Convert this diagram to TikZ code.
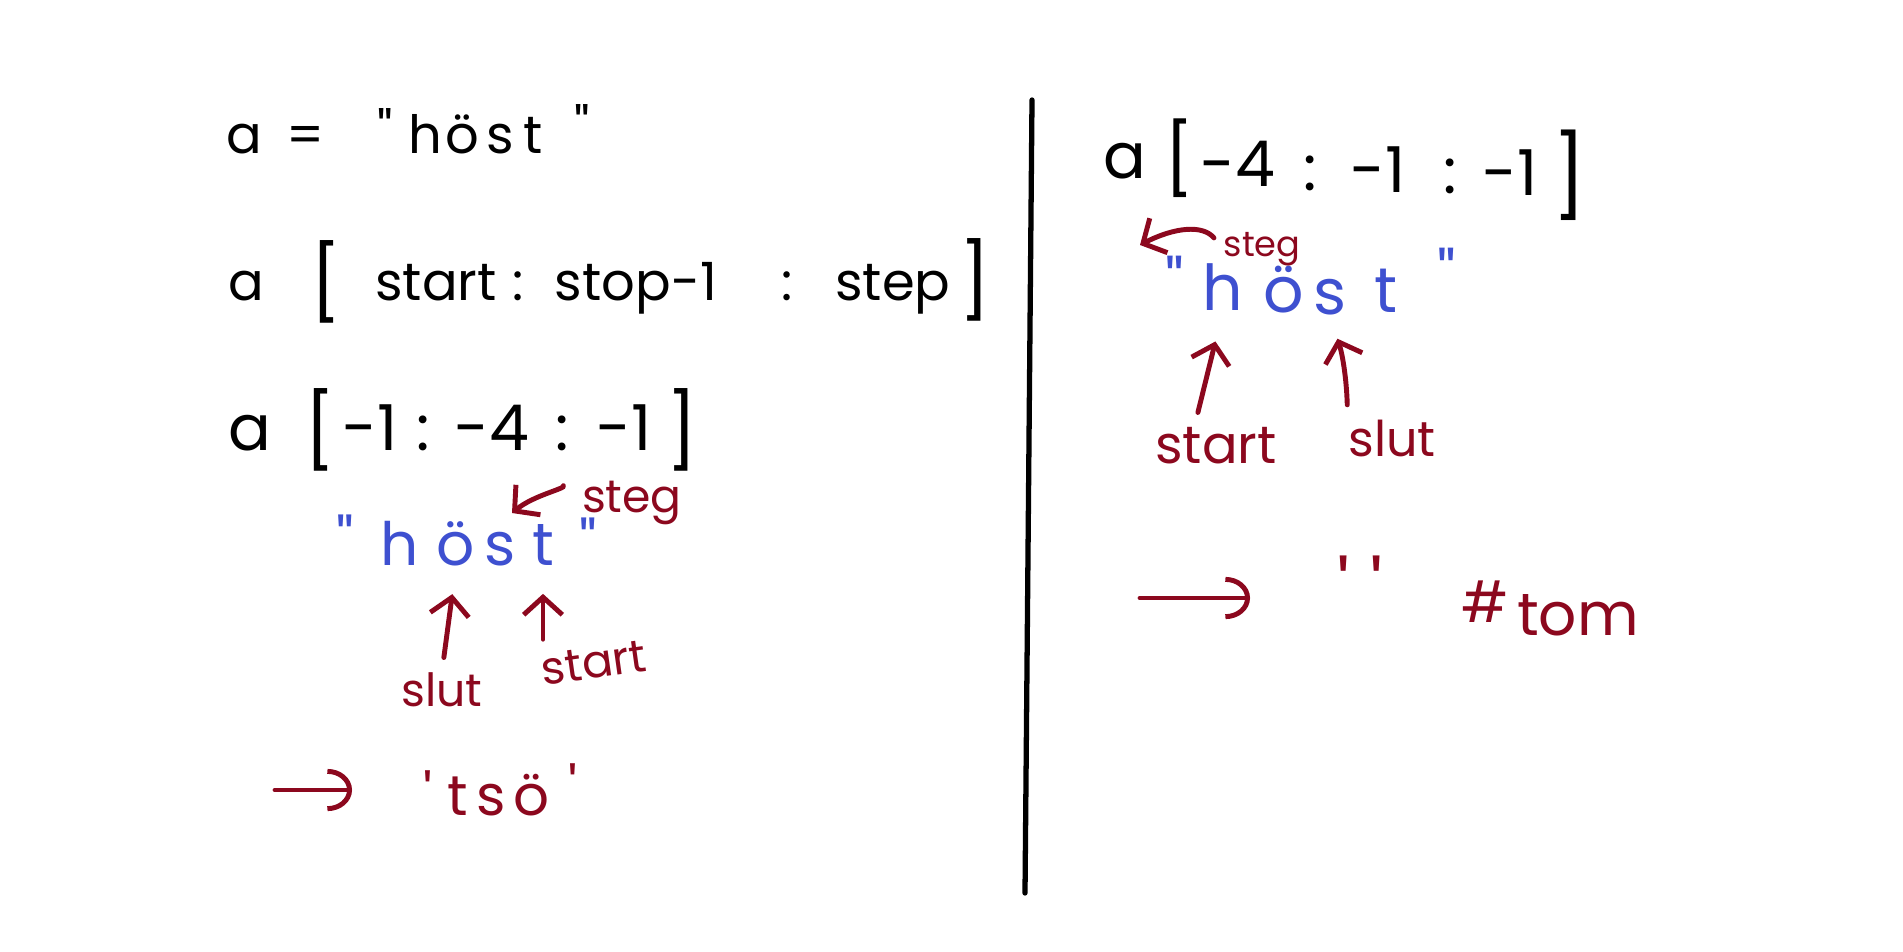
\documentclass[tikz,border=0pt]{standalone}
\usepackage{fontspec}
\newfontfamily\hand{Poppins}
\usetikzlibrary{arrows.meta,calc}
\definecolor{pen}{RGB}{140,8,30}
\definecolor{bluepen}{RGB}{62,80,208}
\begin{document}
\begin{tikzpicture}[x=0.01cm,y=-0.01cm,
  fs/.style={font=\hand\fontsize{#1}{#1}\selectfont},
  tok/.style={inner sep=0pt, anchor=base},
  blk/.style={tok, text=black, fs=15},
  big/.style={tok, text=black, fs=18},
  brk/.style={inner sep=0pt, anchor=center, text=black, fs=#1},
  bl/.style={tok, text=bluepen, fs=#1},
  rd/.style={tok, text=pen, fs=#1},
  rarrow/.style={draw=pen, line width=1.4pt, line cap=round,
    -{Straight Barb[length=5pt,width=11pt]}},
  carrow/.style={draw=pen, line width=1.4pt, line cap=round,
    -{Arc Barb[length=7pt,width=12pt]}}
]
\useasboundingbox (0,0) rectangle (1903,951);
\fill[white] (0,0) rectangle (1903,951);

% ---- line 1: a = "höst"
\node[blk] (l1a) at (244,153) {a};
\node[blk] (l1eq) at (306,153) {=};
\node[blk] (l1q1) at (385,150) {"};
\node[blk] (l1h) at (425,153) {h};
\node[blk] (l1o) at (462,153) {ö};
\node[blk] (l1s) at (500,153) {s};
\node[blk] (l1t) at (533,153) {t};
\node[blk] (l1q2) at (582,146) {"};

% ---- line 2: a [ start : stop-1 : step ]
\node[blk] (l2a) at (246,300) {a};
\node[brk=21] (l2lb) at (326,282) {[};
\node[blk] (l2start) at (436,300) {start};
\node[blk] (l2c1) at (518,300) {:};
\node[blk] (l2stop) at (636,300) {stop-1};
\node[blk] (l2c2) at (787,300) {:};
\node[blk] (l2step) at (893,300) {step};
\node[brk=21] (l2rb) at (975,280) {]};

% ---- line 3: a[-1 : -4 : -1]
\node[big] (l3a) at (250,450) {a};
\node[brk=21] (l3lb) at (320,430) {[};
\node[big] (l3m1) at (370,450) {-1};
\node[big] (l3c1) at (423,450) {:};
\node[big] (l3m4) at (492,450) {-4};
\node[big] (l3c2) at (562,450) {:};
\node[big] (l3m1b) at (624,450) {-1};
\node[brk=21] (l3rb) at (682,430) {]};

% ---- blue höst (left)
\node[bl=17] (bLq1) at (345,562) {"};
\node[bl=17] (bLh) at (400,565) {h};
\node[bl=17] (bLo) at (456,565) {ö};
\node[bl=17] (bLs) at (500,565) {s};
\node[bl=17] (bLt) at (543,565) {t};
\node[bl=17] (bLq2) at (588,565) {"};

% ---- red annotations (left)
\node[rd=13] (stegL) at (632,512) {steg};
\node[rd=13] (slutL) at (442,706) {slut};
\node[rd=13, rotate=8] (startL) at (596,678) {start};
\coordinate (stegLend) at (512,513);
\draw[rarrow, shorten <=7pt] (stegL.west) .. controls +(-15,-14) and +(22,-18) .. (stegLend);
\draw[rarrow, shorten <=4pt, shorten >=8pt] (slutL.north) -- (bLo.south);
\draw[rarrow, shorten <=2pt, shorten >=8pt] (bLt.south |- startL.north) -- (bLt.south);

% ---- result (left)
\coordinate (arrLs) at (275,790);
\coordinate (arrLe) at (352,790);
\draw[carrow] (arrLs) -- (arrLe);
\node[rd=16] (rq1) at (428,815) {'};
\node[rd=16] (rt) at (458,815) {t};
\node[rd=16] (rs) at (491,815) {s};
\node[rd=16] (ro) at (531,815) {ö};
\node[rd=16] (rq2) at (573,808) {'};

% ---- divider
\coordinate (divtop) at (1032,100);
\coordinate (divbot) at (1025,893);
\draw[line width=1.5pt, line cap=round] (divtop) -- (divbot);

% ---- right expression: a[-4 : -1 : -1]
\node[big] (ra) at (1125,178) {a};
\node[brk=20] (rlb) at (1179,158) {[};
\node[big] (rm4) at (1238,186) {-4};
\node[big] (rc1) at (1310,190) {:};
\node[big] (rm1) at (1378,192) {-1};
\node[big] (rc2) at (1450,193) {:};
\node[big] (rm1b) at (1510,195) {-1};
\node[brk=23] (rrb) at (1570,175) {]};

% ---- blue höst (right)
\node[bl=18] (bRq1) at (1175,306) {"};
\node[bl=18] (bRh) at (1223,310) {h};
\node[bl=18] (bRo) at (1284,312) {ö};
\node[bl=18] (bRs) at (1330,314) {s};
\node[bl=18] (bRt) at (1386,312) {t};
\node[bl=18] (bRq2) at (1447,298) {"};

% ---- red annotations (right)
\node[rd=10] (stegR) at (1262,256) {steg};
\coordinate (stegRend) at (1140,245);
\draw[rarrow, shorten <=4pt] (stegR.west) .. controls +(-20,-24) and +(35,-18) .. (stegRend);
\node[rd=15] (startR) at (1216,463) {start};
\node[rd=14] (slutR) at (1392,456) {slut};
\draw[rarrow, shorten <=4pt, shorten >=9pt] ($(startR.north)!0.35!(startR.north west)$) -- (bRh.south);
\draw[rarrow, shorten <=4pt, shorten >=7pt] (slutR.north west) to[bend right=8] (bRs.south);

% ---- result (right)
\coordinate (arrRs) at (1140,598);
\coordinate (arrRe) at (1250,598);
\draw[carrow] (arrRs) -- (arrRe);
\node[rd=22] (emptyq) at (1360,617) {'\hspace{6pt}'};
\node[rd=16] (hash) at (1485,622) {\#};
\node[rd=17] (tom) at (1578,635) {tom};
\end{tikzpicture}
\end{document}
